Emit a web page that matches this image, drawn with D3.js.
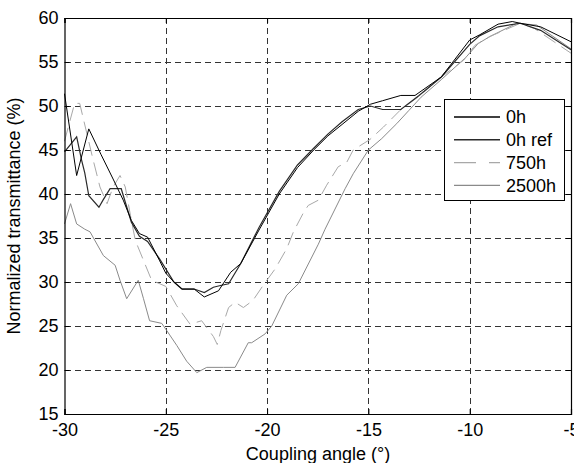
<!DOCTYPE html>
<html>
<head>
<meta charset="utf-8">
<script src="https://cdn.jsdelivr.net/npm/d3@7"></script>
<style>
  body { margin: 0; background: #fff; }
  svg { display: block; font-family: "Liberation Sans", Arial, sans-serif; }
  .tick text { font-size: 18px; fill: #000; }
</style>
</head>
<body>
<svg id="chart" width="574" height="463"></svg>
<script>
const xTicks = [-30, -25, -20, -15, -10, -5];
const yTicks = [15, 20, 25, 30, 35, 40, 45, 50, 55, 60];

const angle0h = [-30, -29.4, -28.8, -28.2, -27.6, -27.1, -26.7, -26.3, -25.9, -25.3, -25.0, -24.6, -24.2, -23.6, -23.1, -22.4, -21.8, -21.3, -20.4, -19.4, -18.5, -17.7, -17.0, -16.3, -15.5, -14.9, -14.3, -13.4, -12.7, -11.4, -10.0, -9.5, -8.6, -7.9, -7.5, -6.5, -5.0];
const trans0h = [51.4, 42.1, 47.4, 44.5, 41.7, 39.3, 37.0, 35.5, 35.1, 32.4, 31.0, 30.0, 29.2, 29.2, 28.3, 29.0, 31.1, 32.1, 35.9, 40.0, 43.0, 45.0, 46.6, 47.9, 49.4, 50.2, 50.6, 51.2, 51.2, 53.3, 57.5, 58.1, 59.3, 59.6, 59.4, 59.0, 57.3];

const angle0hRef = [-30, -29.4, -29.15, -29.0, -28.8, -28.3, -28.1, -27.75, -27.2, -26.7, -26.3, -25.9, -25.3, -24.6, -24.2, -23.6, -23.1, -22.65, -22.3, -21.9, -21.3, -20.4, -19.4, -18.5, -17.7, -17.0, -16.3, -15.5, -14.9, -14.3, -13.4, -12.5, -11.4, -10.0, -9.5, -8.6, -7.5, -6.5, -5.0];
const trans0hRef = [44.8, 46.5, 43.8, 42.4, 39.8, 38.5, 39.3, 40.6, 40.6, 36.8, 35.2, 34.6, 32.6, 30.0, 29.2, 29.2, 28.8, 29.4, 29.6, 29.8, 32.1, 36.2, 40.3, 43.3, 45.2, 46.8, 48.2, 49.6, 50.0, 49.6, 49.6, 51.2, 53.3, 57.0, 58.0, 59.0, 59.4, 58.6, 56.4];

const angle750h = [-30, -29.5, -29.25, -28.6, -28.25, -27.9, -27.6, -27.26, -27.0, -26.7, -26.5, -25.7, -25.0, -24.46, -23.8, -23.23, -22.65, -22.46, -22.28, -21.9, -21.58, -21.17, -20.7, -20.2, -19.6, -19.03, -18.7, -18.2, -17.97, -17.47, -17.06, -16.49, -16.07, -15.75, -14.92, -14.26, -13.44, -12.45, -11.4, -10.3, -9.74, -9.0, -7.5, -6.8, -5.0];
const trans750h = [46.0, 50.3, 50.3, 44.0, 40.8, 38.9, 40.8, 42.1, 40.8, 37.0, 34.7, 30.2, 29.5, 27.3, 25.2, 25.6, 23.8, 22.9, 24.5, 27.1, 27.7, 27.1, 27.9, 29.6, 31.5, 33.8, 35.7, 37.9, 38.7, 39.3, 41.0, 43.1, 43.6, 45.0, 46.2, 47.6, 49.5, 51.2, 53.3, 55.2, 56.9, 57.9, 59.4, 58.8, 56.0];

const angle2500h = [-30, -29.7, -29.4, -29.0, -28.74, -28.08, -27.5, -27.26, -26.93, -26.36, -26.1, -25.8, -25.2, -24.96, -24.46, -23.97, -23.47, -22.98, -22.16, -21.58, -20.93, -20.76, -20.1, -19.77, -19.03, -18.46, -17.47, -17.14, -16.15, -15.75, -15.0, -14.34, -13.6, -13.0, -12.4, -11.4, -10.2, -9.58, -9.0, -7.68, -6.7, -5.0];
const trans2500h = [36.6, 38.9, 36.6, 36.0, 35.7, 33.0, 31.9, 30.2, 28.1, 30.2, 28.1, 25.6, 25.3, 24.5, 22.8, 21.0, 19.7, 20.3, 20.3, 20.3, 23.1, 23.1, 24.1, 25.0, 28.5, 29.8, 34.3, 36.0, 40.6, 42.3, 45.0, 46.3, 48.0, 49.5, 51.0, 53.0, 55.5, 57.1, 57.9, 59.4, 59.2, 56.5];

const seriesNames = ["0h", "0h ref", "750h", "2500h"];

const series = [
  { name: seriesNames[0], xs: angle0h, ys: trans0h, color: "#000", width: 1, dash: null },
  { name: seriesNames[1], xs: angle0hRef, ys: trans0hRef, color: "#2a2a2a", width: 1.2, dash: null },
  { name: seriesNames[2], xs: angle750h, ys: trans750h, color: "#a8a8a8", width: 1, dash: "14,7" },
  { name: seriesNames[3], xs: angle2500h, ys: trans2500h, color: "#8a8a8a", width: 1, dash: null }
];

const svg = d3.select("#chart");
const plotLeft = 64.5, plotRight = 571, plotTop = 18, plotBottom = 414;

const x = d3.scaleLinear().domain([-30, -5]).range([plotLeft, plotRight]);
const y = d3.scaleLinear().domain([15, 60]).range([plotBottom, plotTop]);

// grid
const grid = svg.append("g").attr("stroke", "#333").attr("stroke-dasharray", "6,4").attr("shape-rendering", "crispEdges");
grid.selectAll(".vg").data(xTicks.slice(1, -1)).enter().append("line")
  .attr("x1", d => Math.round(x(d)) + 0.5).attr("x2", d => Math.round(x(d)) + 0.5)
  .attr("y1", plotTop).attr("y2", plotBottom);
grid.selectAll(".hg").data(yTicks.slice(1, -1)).enter().append("line")
  .attr("y1", d => Math.round(y(d)) + 0.5).attr("y2", d => Math.round(y(d)) + 0.5)
  .attr("x1", plotLeft).attr("x2", plotRight);

// lines
const line = d3.line().x(d => x(d[0])).y(d => y(d[1]));
svg.append("g").selectAll("path").data(series.slice().reverse()).enter().append("path")
  .attr("d", s => line(s.xs.map((v, i) => [v, s.ys[i]])))
  .attr("fill", "none")
  .attr("stroke", s => s.color)
  .attr("stroke-width", s => s.width)
  .attr("stroke-dasharray", s => s.dash);

// axes (plain hyphen minus, like the original)
const fmt = d => String(d);
const xAxis = svg.append("g").attr("transform", `translate(0,${plotBottom})`)
  .call(d3.axisBottom(x).tickValues(xTicks).tickSize(-5).tickPadding(5).tickFormat(fmt));
const yAxis = svg.append("g").attr("transform", `translate(${plotLeft},0)`)
  .call(d3.axisLeft(y).tickValues(yTicks).tickSize(-5).tickPadding(6).tickFormat(fmt));
svg.append("g").attr("transform", `translate(0,${plotTop})`)
  .call(d3.axisTop(x).tickValues(xTicks).tickSize(-5).tickFormat(""));
svg.append("g").attr("transform", `translate(${plotRight},0)`)
  .call(d3.axisRight(y).tickValues(yTicks).tickSize(-5).tickFormat(""));
svg.selectAll(".domain").attr("stroke", "#000").attr("stroke-width", 1.2);
xAxis.selectAll(".tick text").attr("dy", "0.95em");

svg.append("text").attr("x", 318).attr("y", 460).attr("text-anchor", "middle")
  .attr("font-size", 18).text("Coupling angle (°)");
svg.append("text").attr("transform", "translate(20,216) rotate(-90)").attr("text-anchor", "middle")
  .attr("font-size", 18).text("Normalized transmittance (%)");

// legend
const legend = svg.append("g");
legend.append("rect").attr("x", 444.5).attr("y", 99.5).attr("width", 120).attr("height", 101)
  .attr("fill", "#fff").attr("stroke", "#000").attr("stroke-width", 1);
const items = legend.selectAll(".item").data(series).enter().append("g")
  .attr("transform", (d, i) => `translate(0, ${117 + i * 22.8})`);
items.append("line").attr("x1", 454).attr("x2", 500)
  .attr("stroke", d => d.color).attr("stroke-width", d => d.width + 0.3)
  .attr("stroke-dasharray", d => d.dash ? "22,13" : null);
items.append("text").attr("x", 506).attr("dy", "0.35em").attr("font-size", 18).text(d => d.name);
</script>
</body>
</html>
